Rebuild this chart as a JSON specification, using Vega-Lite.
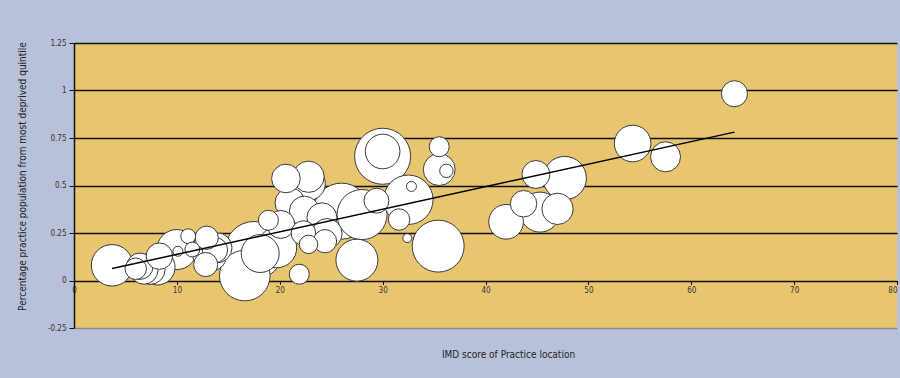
{
  "$schema": "https://vega.github.io/schema/vega-lite/v6.json",
  "width": 823,
  "height": 285,
  "autosize": {"type": "none"},
  "padding": {"left": 74, "top": 43, "right": 3, "bottom": 50},
  "background": "#B9C1DA",
  "config": {
    "view": {"fill": "#E8C670", "stroke": null},
    "font": "'Liberation Sans Narrow', 'DejaVu Sans Condensed', sans-serif"
  },
  "data": {
    "values": [
      {"imd": 17.5, "share": 0.158, "pop": 16.8},
      {"imd": 26.0, "share": 0.365, "pop": 15.7},
      {"imd": 30.0, "share": 0.654, "pop": 15.7},
      {"imd": 35.4, "share": 0.181, "pop": 13.5},
      {"imd": 16.6, "share": 0.026, "pop": 12.8},
      {"imd": 28.0, "share": 0.347, "pop": 12.5},
      {"imd": 32.5, "share": 0.425, "pop": 12.2},
      {"imd": 47.7, "share": 0.539, "pop": 9.4},
      {"imd": 27.5, "share": 0.107, "pop": 8.8},
      {"imd": 3.7, "share": 0.08, "pop": 8.6},
      {"imd": 10.0, "share": 0.163, "pop": 8.0},
      {"imd": 19.7, "share": 0.172, "pop": 8.0},
      {"imd": 45.3, "share": 0.36, "pop": 8.0},
      {"imd": 18.1, "share": 0.142, "pop": 7.2},
      {"imd": 54.3, "share": 0.721, "pop": 6.7},
      {"imd": 8.1, "share": 0.07, "pop": 6.3},
      {"imd": 30.0, "share": 0.679, "pop": 6.0},
      {"imd": 42.0, "share": 0.309, "pop": 6.0},
      {"imd": 13.2, "share": 0.137, "pop": 5.8},
      {"imd": 22.8, "share": 0.51, "pop": 5.6},
      {"imd": 35.5, "share": 0.584, "pop": 5.1},
      {"imd": 22.8, "share": 0.546, "pop": 4.9},
      {"imd": 47.0, "share": 0.377, "pop": 4.9},
      {"imd": 7.4, "share": 0.058, "pop": 4.5},
      {"imd": 13.9, "share": 0.172, "pop": 4.5},
      {"imd": 21.0, "share": 0.409, "pop": 4.5},
      {"imd": 22.4, "share": 0.365, "pop": 4.5},
      {"imd": 24.1, "share": 0.33, "pop": 4.5},
      {"imd": 24.6, "share": 0.247, "pop": 4.5},
      {"imd": 57.5, "share": 0.651, "pop": 4.5},
      {"imd": 20.6, "share": 0.537, "pop": 4.1},
      {"imd": 6.8, "share": 0.054, "pop": 3.9},
      {"imd": 20.1, "share": 0.295, "pop": 3.9},
      {"imd": 44.9, "share": 0.558, "pop": 3.9},
      {"imd": 6.4, "share": 0.075, "pop": 3.5},
      {"imd": 8.3, "share": 0.128, "pop": 3.5},
      {"imd": 12.9, "share": 0.18, "pop": 3.5},
      {"imd": 43.7, "share": 0.404, "pop": 3.5},
      {"imd": 64.2, "share": 0.983, "pop": 3.4},
      {"imd": 13.7, "share": 0.16, "pop": 3.2},
      {"imd": 29.4, "share": 0.42, "pop": 3.1},
      {"imd": 22.3, "share": 0.25, "pop": 3.0},
      {"imd": 12.8, "share": 0.084, "pop": 2.9},
      {"imd": 12.9, "share": 0.225, "pop": 2.7},
      {"imd": 24.4, "share": 0.207, "pop": 2.7},
      {"imd": 6.0, "share": 0.062, "pop": 2.3},
      {"imd": 31.6, "share": 0.321, "pop": 2.3},
      {"imd": 21.9, "share": 0.033, "pop": 2.0},
      {"imd": 18.9, "share": 0.317, "pop": 2.0},
      {"imd": 35.5, "share": 0.704, "pop": 2.0},
      {"imd": 22.8, "share": 0.19, "pop": 1.7},
      {"imd": 11.1, "share": 0.233, "pop": 1.1},
      {"imd": 11.5, "share": 0.163, "pop": 1.1},
      {"imd": 36.2, "share": 0.577, "pop": 0.9},
      {"imd": 10.1, "share": 0.154, "pop": 0.5},
      {"imd": 32.8, "share": 0.495, "pop": 0.5},
      {"imd": 32.4, "share": 0.223, "pop": 0.4}
    ]
  },
  "layer": [
    {
      "mark": {"type": "circle", "fill": "white", "fillOpacity": 1, "opacity": 1, "stroke": "#3a3a3a", "strokeWidth": 1},
      "encoding": {
        "x": {
          "field": "imd", "type": "quantitative",
          "scale": {"domain": [0, 80], "nice": false, "zero": false},
          "axis": {
            "values": [0, 10, 20, 30, 40, 50, 60, 70, 80],
            "offset": -47.5,
            "domain": false,
            "grid": false,
            "tickSize": 4,
            "tickColor": "#111",
            "labelFontSize": 8,
            "labelColor": "#333",
            "labelFlush": false,
            "labelAlign": {"expr": "datum.value == 80 ? 'right' : 'center'"},
            "labelPadding": 2,
            "title": "IMD score of Practice location",
            "titleFontSize": 10,
            "titleFontWeight": "normal",
            "titleColor": "#222",
            "titleX": 434,
            "titleY": 74,
            "titleAlign": "center",
            "titleBaseline": "middle"
          }
        },
        "y": {
          "field": "share", "type": "quantitative",
          "scale": {"domain": [-0.25, 1.25], "nice": false, "zero": false},
          "axis": {
            "values": [-0.25, 0, 0.25, 0.5, 0.75, 1, 1.25],
            "labelExpr": "'' + datum.value",
            "labelFontSize": 8,
            "labelColor": "#333",
            "labelPadding": 3,
            "tickSize": 5,
            "tickColor": "#111",
            "domainColor": "#111",
            "domainWidth": 1.5,
            "grid": true,
            "gridColor": {"condition": {"test": "datum.value == -0.25", "value": "#8c8c8c"}, "value": "#111"},
            "gridWidth": 1.5,
            "title": "Percentage practice population from most deprived quintile",
            "titleFontSize": 10,
            "titleFontWeight": "normal",
            "titleColor": "#222",
            "titleAngle": -90,
            "titleX": -52,
            "titleY": 133,
            "titleAlign": "center",
            "titleBaseline": "middle"
          }
        },
        "size": {
          "field": "pop", "type": "quantitative",
          "scale": {"domain": [0, 20], "range": [0, 4000]},
          "legend": null
        }
      }
    },
    {
      "transform": [{"regression": "share", "on": "imd"}],
      "mark": {"type": "line", "color": "black", "strokeWidth": 1.5},
      "encoding": {
        "x": {"field": "imd", "type": "quantitative"},
        "y": {"field": "share", "type": "quantitative"}
      }
    }
  ]
}
